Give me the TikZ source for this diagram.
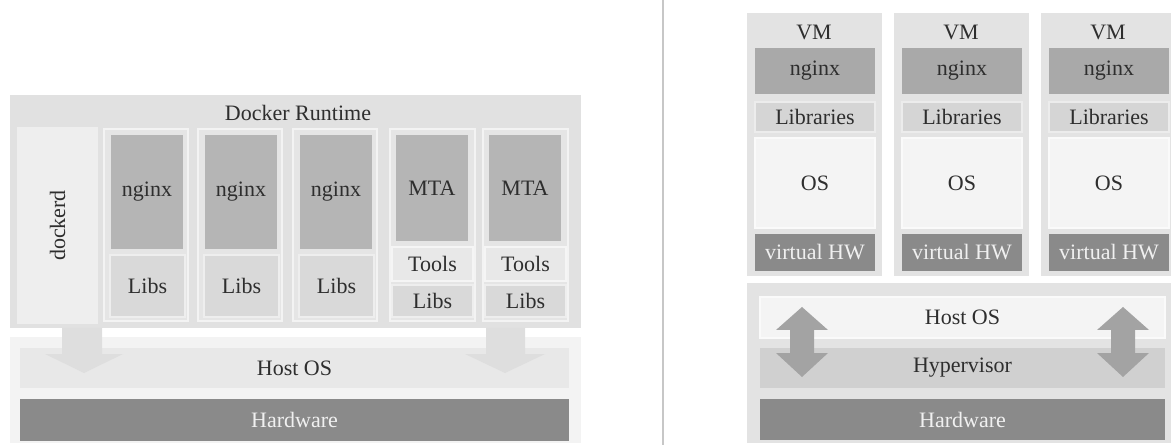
\documentclass[tikz,border=0pt]{standalone}
\usepackage{fontspec}
\setmainfont{Liberation Serif}
\usepackage{tikz}
\usetikzlibrary{fit}

\definecolor{txt}{HTML}{2E2E2E}
\definecolor{rtbg}{HTML}{E1E1E1}
\definecolor{colbg}{HTML}{E5E5E5}
\definecolor{appbg}{HTML}{B5B5B5}
\definecolor{libbg}{HTML}{D9D9D9}
\definecolor{toolbg}{HTML}{E8E8E8}
\definecolor{hostbg}{HTML}{F3F3F3}
\definecolor{hostin}{HTML}{E8E8E8}
\definecolor{hwbg}{HTML}{8A8A8A}
\definecolor{arrowbg}{HTML}{DEDEDE}
\definecolor{vmbg}{HTML}{E3E3E3}
\definecolor{vmapp}{HTML}{A9A9A9}
\definecolor{vmlib}{HTML}{D5D5D5}
\definecolor{osbg}{HTML}{F4F4F4}
\definecolor{hypbg}{HTML}{D0D0D0}
\definecolor{dblarrow}{HTML}{A3A3A3}

\begin{document}
\begin{tikzpicture}[x=0.75pt,y=0.75pt,yscale=-1,xscale=1,
  every node/.style={font=\fontsize{16.5}{19}\selectfont, text=txt},
  layer/.style={inner sep=0pt, fill=#1},
  framed/.style={inner sep=0pt, fill=#1, draw=white!55!#1, line width=1.2pt},
  hw/.style={inner sep=0pt, fill=hwbg},
  hwtext/.style={text=white!94!black}]
\useasboundingbox (0,0) rectangle (1171,445);
\clip (0,0) rectangle (1171,445);

% docker side
\node[layer=rtbg, fit={(10,95) (581,328)}] (runtime) {};
\node at (298,113) (rtlabel) {Docker Runtime};
\node[framed=white!45!rtbg, fit={(18,128) (97,323)}] (dockerd) {};
\node[rotate=90] at (dockerd.center) (dockerdtxt) {dockerd};
\foreach \n/\x in {1/104,2/198,3/293} {
  \node[framed=colbg, fit={(\x,129) (\x+84,321)}] (ctr\n) {};
  \node[layer=appbg, fit={(\x+7,135) (\x+79,249)}, label=center:nginx] (app\n) {};
  \node[framed=libbg, fit={(\x+6,255) (\x+81,317)}, label=center:Libs] (libs\n) {};
}
\foreach \n/\x in {4/390,5/483} {
  \node[framed=colbg, fit={(\x,129) (\x+85,321)}] (ctr\n) {};
  \node[layer=appbg, fit={(\x+6,135) (\x+78,241)}, label=center:MTA] (app\n) {};
  \node[framed=toolbg, fit={(\x+2,247) (\x+83,281)}, label=center:Tools] (tools\n) {};
  \node[framed=libbg, fit={(\x+2,285) (\x+83,317)}, label=center:Libs] (libs\n) {};
}
\node[layer=hostbg, fit={(10,337) (581,443)}] (hostarea) {};
\node[layer=hostin, fit={(20,348) (569,388)}, label=center:{Host OS}] (hostos) {};
\node[hw, fit={(20,399) (569,441)}, label={[hwtext]center:Hardware}] (hardware) {};
% arrows from the runtime down to the host
\fill[arrowbg] (62,328) -- (102,328) -- (102,354) -- (123,354) -- (84,373)
  -- (45,354) -- (62,354) -- cycle;
\fill[arrowbg] (486,328) -- (525,328) -- (525,354) -- (545,354) -- (505,373)
  -- (465,354) -- (486,354) -- cycle;

\draw[line width=1.5pt, black!22] (663,0) -- (663,445);

% vm side
\foreach \n/\x in {1/747,2/894,3/1041} {
  \node[layer=vmbg, fit={(\x,13) (\x+135,276)}] (vm\n) {};
  \node at (\x+67,32) (vmtxt\n) {VM};
  \node[layer=vmapp, fit={(\x+8,48) (\x+128,94)}, label=center:nginx] (vmapp\n) {};
  \node[framed=vmlib, fit={(\x+8,102) (\x+128,132)}, label=center:Libraries] (vmlib\n) {};
  \node[framed=osbg, fit={(\x+8,138) (\x+128,228)}, label=center:OS] (vmos\n) {};
  \node[hw, fit={(\x+8,234) (\x+128,271)}, label={[hwtext]center:virtual HW}] (vhw\n) {};
}
\node[layer=vmbg, fit={(747,283) (1171,443)}] (vmhostarea) {};
\node[framed=osbg, fit={(760,297) (1165,338)}, label=center:{Host OS}] (vmhostos) {};
\node[layer=hypbg, fit={(760,348) (1165,388)}, label=center:Hypervisor] (hypervisor) {};
\node[hw, fit={(760,399) (1165,440)}, label={[hwtext]center:Hardware}] (vmhardware) {};
% two-way arrows through host and hypervisor
\foreach \c in {802,1123} {
  \fill[dblarrow] (\c,307) -- (\c+26,330) -- (\c+12,330) -- (\c+12,353)
    -- (\c+26,353) -- (\c,377) -- (\c-26,353) -- (\c-12,353)
    -- (\c-12,330) -- (\c-26,330) -- cycle;
}
\end{tikzpicture}
\end{document}
